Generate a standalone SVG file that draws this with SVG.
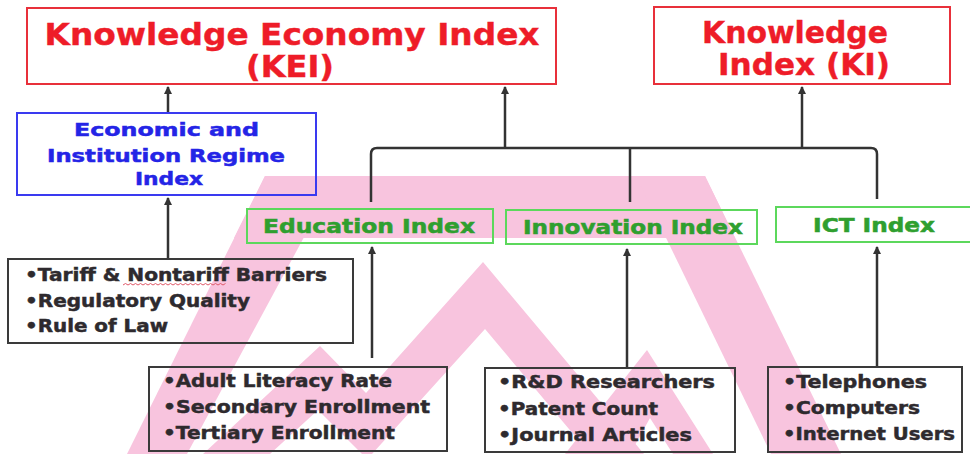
<svg xmlns="http://www.w3.org/2000/svg" width="970" height="454" viewBox="0 0 970 454">
<defs>
<style>
.wm{fill:#f8c4de;stroke:none}
.box{fill:none;stroke-width:2}
.red{stroke:#e8303a}
.blue{stroke:#3a3af0}
.green{stroke:#5cd85c}
.dark{stroke:#3a3a3a}
.t{font-family:"DejaVu Sans","Liberation Sans",sans-serif;font-weight:bold}
.tr{fill:#ee1c28;stroke:#ee1c28;stroke-width:0.4;font-size:30px;text-anchor:middle}
.tb{fill:#2424e6;stroke:#2424e6;stroke-width:0.5;font-size:18px;text-anchor:middle}
.tg{fill:#2f9f2f;stroke:#2f9f2f;stroke-width:0.5;font-size:19px;text-anchor:middle}
.tk{fill:#2e2a2e;stroke:#2e2a2e;stroke-width:0.5;font-size:18px}
.con{fill:none;stroke:#333;stroke-width:2.5}
</style>
<marker id="ah" markerUnits="userSpaceOnUse" markerWidth="10" markerHeight="10" refX="7" refY="4" orient="auto">
<path d="M0,0 L8,4 L0,8 z" fill="#333"/>
</marker>
</defs>
<rect width="970" height="454" fill="#ffffff"/>
<g id="watermark">
<polygon class="wm" points="265,176 337,176 187,454 127,454"/>
<polygon class="wm" points="265,176 705,176 735,238 234,238"/>
<polygon class="wm" points="636,176 705,176 841,454 771,454"/>
<polygon class="wm" points="203,454 320,346 366,393 483,262 644,454 590,454 485,329 372,454 362,454 318,410 270,454"/>
<polygon class="wm" points="565,454 647,350 713,454 673,454 650,418 630,454"/>
</g>
<g id="connectors">
<path class="con" d="M168,113 V87" marker-end="url(#ah)"/>
<path class="con" d="M168,259 V198" marker-end="url(#ah)"/>
<path class="con" d="M505,148 V87" marker-end="url(#ah)"/>
<path class="con" d="M802,148 V87" marker-end="url(#ah)"/>
<path class="con" d="M371,202 V154 Q371,148 377,148 H871 Q877,148 877,154 V199"/>
<path class="con" d="M630,148 V202"/>
<path class="con" d="M372,358 V247" marker-end="url(#ah)"/>
<path class="con" d="M627,368 V249" marker-end="url(#ah)"/>
<path class="con" d="M877,367 V247" marker-end="url(#ah)"/>
</g>
<g id="kei">
<rect class="box red" x="27" y="8" width="529" height="76"/>
<text class="t tr" x="292" y="45" textLength="495" lengthAdjust="spacingAndGlyphs">Knowledge Economy Index</text>
<text class="t tr" x="290" y="77" textLength="88" lengthAdjust="spacingAndGlyphs">(KEI)</text>
</g>
<g id="ki">
<rect class="box red" x="654" y="7" width="296" height="77"/>
<text class="t tr" x="795" y="43" textLength="186" lengthAdjust="spacingAndGlyphs">Knowledge</text>
<text class="t tr" x="804" y="75" textLength="172" lengthAdjust="spacingAndGlyphs">Index (KI)</text>
</g>
<g id="eiri">
<rect class="box blue" x="17" y="113" width="299" height="82"/>
<text class="t tb" x="166.5" y="136" textLength="185" lengthAdjust="spacingAndGlyphs">Economic and</text>
<text class="t tb" x="166" y="162" textLength="238" lengthAdjust="spacingAndGlyphs">Institution Regime</text>
<text class="t tb" x="169" y="185" textLength="68" lengthAdjust="spacingAndGlyphs">Index</text>
</g>
<g id="education">
<rect class="box green" x="247" y="209" width="246" height="34"/>
<text class="t tg" x="369" y="233" textLength="212" lengthAdjust="spacingAndGlyphs">Education Index</text>
</g>
<g id="innovation">
<rect class="box green" x="506" y="210" width="251" height="34"/>
<text class="t tg" x="633" y="234" textLength="220" lengthAdjust="spacingAndGlyphs">Innovation Index</text>
</g>
<g id="ict">
<rect class="box green" x="776" y="207" width="200" height="35"/>
<text class="t tg" x="874" y="232" textLength="122" lengthAdjust="spacingAndGlyphs">ICT Index</text>
</g>
<g id="regime-vars">
<rect class="box dark" x="8" y="259" width="345" height="84"/>
<text class="t tk" x="25" y="281" textLength="302" lengthAdjust="spacingAndGlyphs">•Tariff &amp; Nontariff Barriers</text>
<path d="M123,285 l2.5,-1.5 l2.5,1.5 l2.5,-1.5 l2.5,1.5 l2.5,-1.5 l2.5,1.5 l2.5,-1.5 l2.5,1.5 l2.5,-1.5 l2.5,1.5 l2.5,-1.5 l2.5,1.5 l2.5,-1.5 l2.5,1.5 l2.5,-1.5 l2.5,1.5 l2.5,-1.5 l2.5,1.5 l2.5,-1.5 l2.5,1.5 l2.5,-1.5 l2.5,1.5 l2.5,-1.5 l2.5,1.5 l2.5,-1.5 l2.5,1.5 l2.5,-1.5 l2.5,1.5 l2.5,-1.5 l2.5,1.5 l2.5,-1.5 l2.5,1.5 l2.5,-1.5 l2.5,1.5 l2.5,-1.5 l2.5,1.5 l2.5,-1.5 l2.5,1.5 l2.5,-1.5 l2.5,1.5 l2.5,-1.5" fill="none" stroke="#e05a6a" stroke-width="1"/>
<text class="t tk" x="25" y="307" textLength="225" lengthAdjust="spacingAndGlyphs">•Regulatory Quality</text>
<text class="t tk" x="25" y="332" textLength="143" lengthAdjust="spacingAndGlyphs">•Rule of Law</text>
</g>
<g id="education-vars">
<rect class="box dark" x="149" y="367" width="298" height="84"/>
<text class="t tk" x="163" y="387" textLength="229" lengthAdjust="spacingAndGlyphs">•Adult Literacy Rate</text>
<text class="t tk" x="163" y="413" textLength="267" lengthAdjust="spacingAndGlyphs">•Secondary Enrollment</text>
<text class="t tk" x="163" y="439" textLength="232" lengthAdjust="spacingAndGlyphs">•Tertiary Enrollment</text>
</g>
<g id="innovation-vars">
<rect class="box dark" x="485" y="368" width="250" height="84"/>
<text class="t tk" x="498" y="388" textLength="217" lengthAdjust="spacingAndGlyphs">•R&amp;D Researchers</text>
<text class="t tk" x="498" y="415" textLength="160" lengthAdjust="spacingAndGlyphs">•Patent Count</text>
<text class="t tk" x="498" y="441" textLength="194" lengthAdjust="spacingAndGlyphs">•Journal Articles</text>
</g>
<g id="ict-vars">
<rect class="box dark" x="768" y="367" width="194" height="85"/>
<text class="t tk" x="783" y="388" textLength="144" lengthAdjust="spacingAndGlyphs">•Telephones</text>
<text class="t tk" x="783" y="414" textLength="137" lengthAdjust="spacingAndGlyphs">•Computers</text>
<text class="t tk" x="783" y="440" textLength="172" lengthAdjust="spacingAndGlyphs">•Internet Users</text>
</g>
</svg>
